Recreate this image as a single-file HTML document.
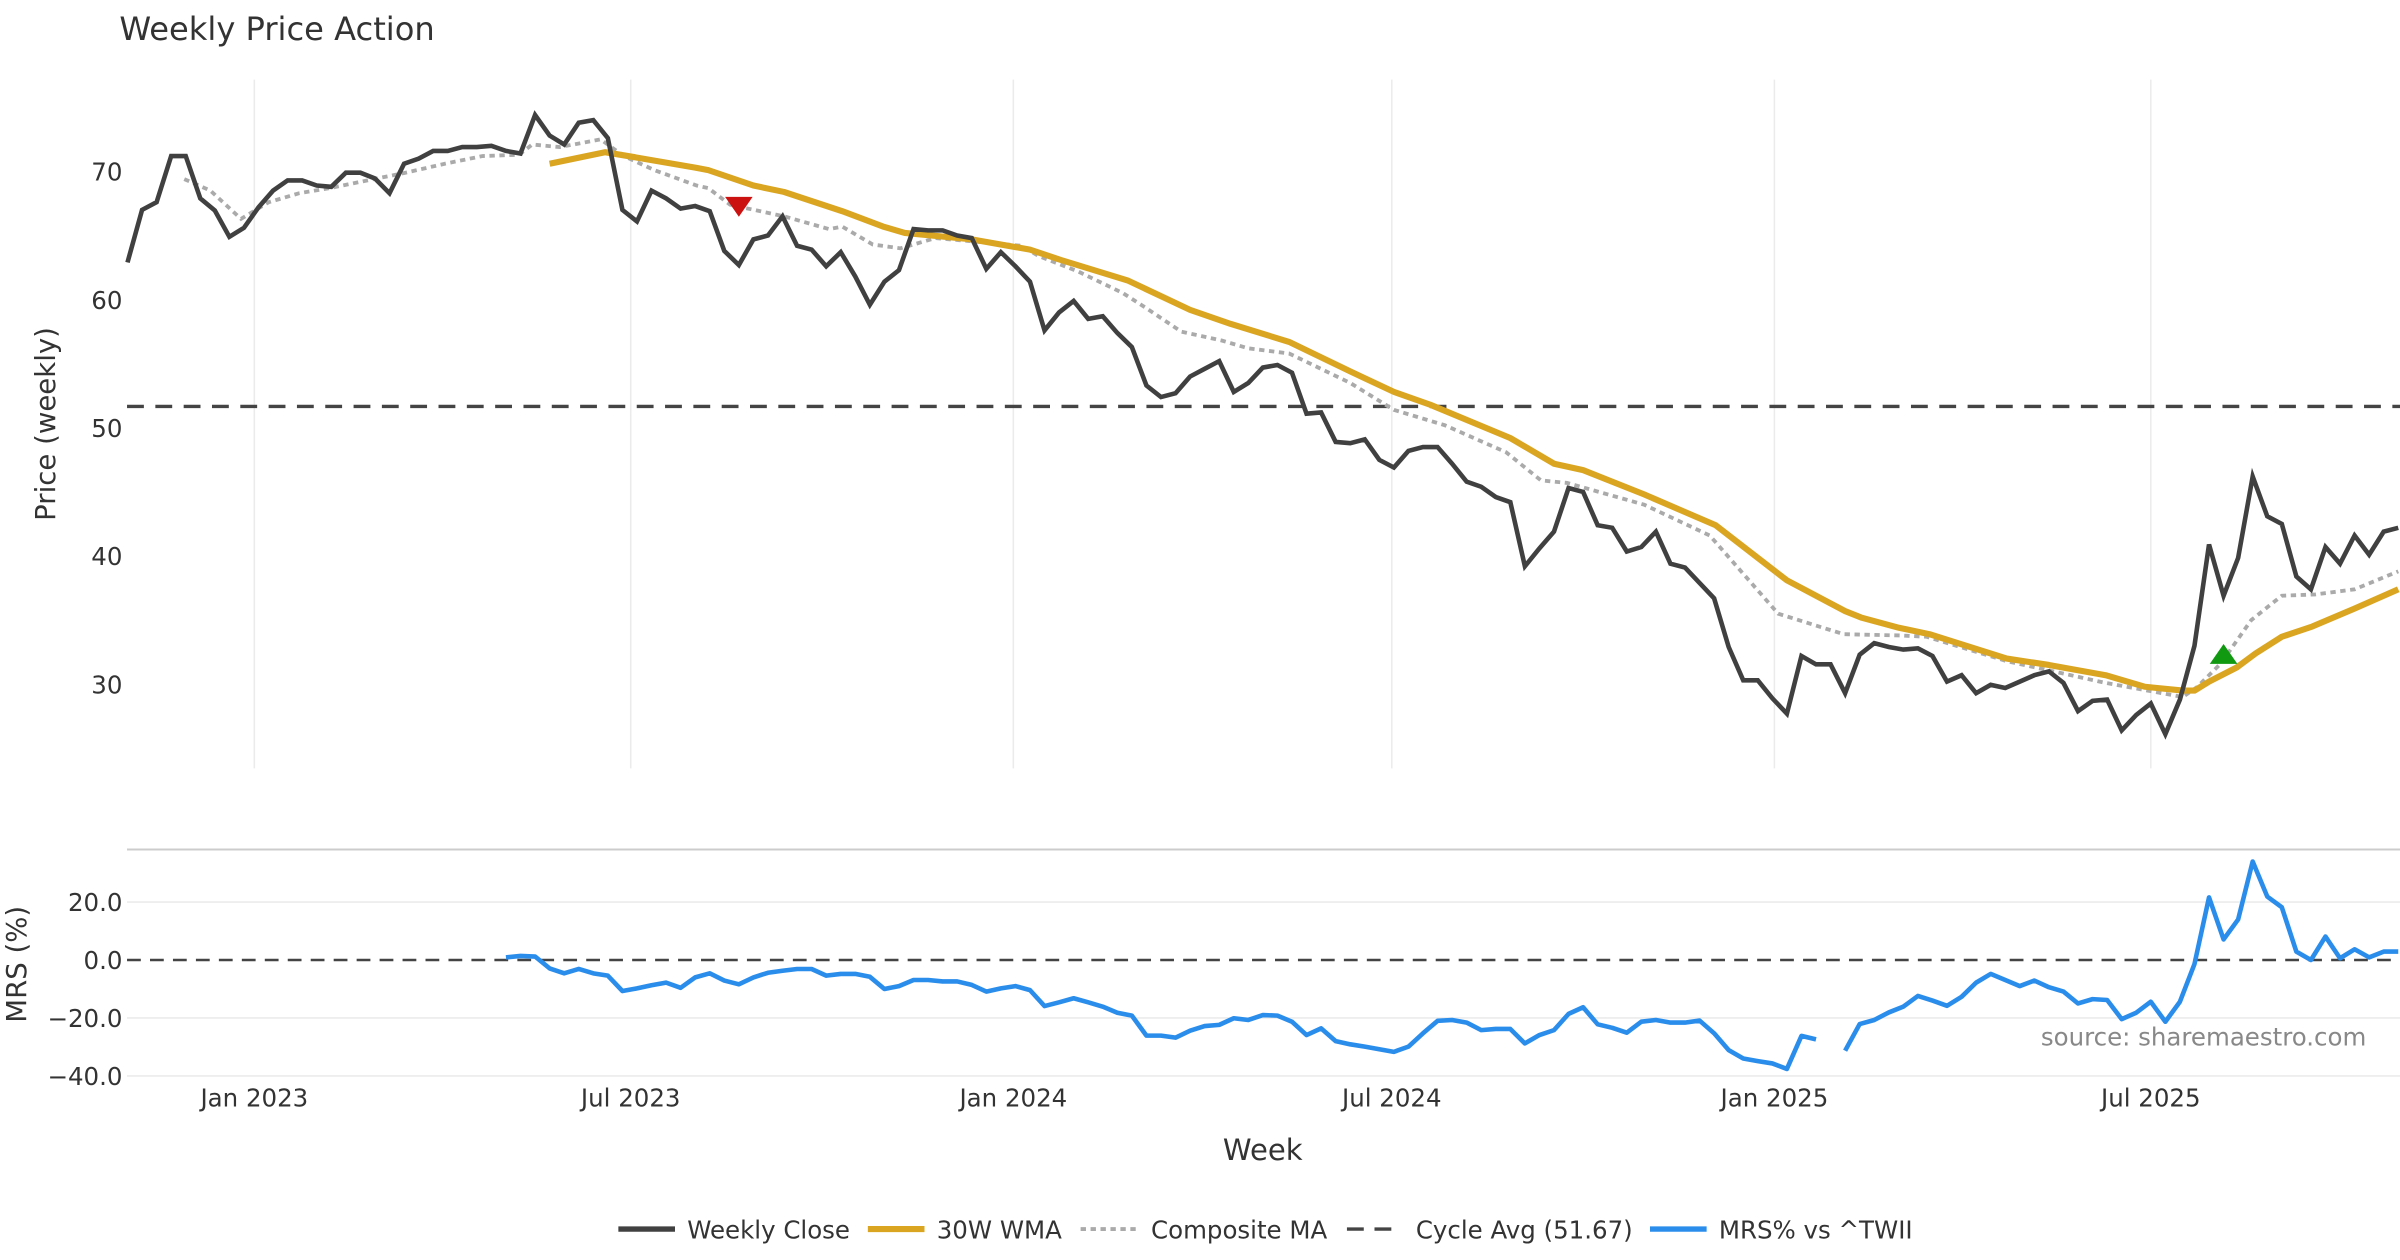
<!DOCTYPE html>
<html>
<head>
<meta charset="utf-8">
<style>
  html, body { margin: 0; padding: 0; background: #fff; }
  svg { display: block; font-family: "DejaVu Sans", "Liberation Sans", sans-serif; }
</style>
</head>
<body>
<svg id="chart" width="2400" height="1260" viewBox="0 0 1568 823.2" preserveAspectRatio="none" xmlns="http://www.w3.org/2000/svg">
  <rect x="0" y="0" width="1568" height="823.2" fill="#ffffff"/>
  <text x="78" y="26" font-size="21" fill="#333">Weekly Price Action</text>
  <g id="grid"></g>
  <g id="main"></g>
  <g id="mrs"></g>
  <g id="axes"></g>
  <text transform="translate(36,277) rotate(-90)" text-anchor="middle" font-size="18" fill="#333">Price (weekly)</text>
  <text transform="translate(17,630) rotate(-90)" text-anchor="middle" font-size="18" fill="#333">MRS (%)</text>
  <text x="825" y="758" text-anchor="middle" font-size="19" fill="#333">Week</text>
  <text x="1546" y="683" text-anchor="end" font-size="16" fill="#888">source: sharemaestro.com</text>
  <g id="legend">
    <g>
      <line x1="404" y1="803" x2="441" y2="803" stroke="#404040" stroke-width="3.5"/>
      <text x="449" y="809" font-size="16" fill="#333">Weekly Close</text>
    </g>
    <g>
      <line x1="567" y1="803" x2="604" y2="803" stroke="#DAA520" stroke-width="4"/>
      <text x="612" y="809" font-size="16" fill="#333">30W WMA</text>
    </g>
    <g>
      <line x1="706" y1="803" x2="744" y2="803" stroke="#aaa" stroke-width="2.5" stroke-dasharray="3.5,3"/>
      <text x="752" y="809" font-size="16" fill="#333">Composite MA</text>
    </g>
    <g>
      <line x1="880" y1="803" x2="916" y2="803" stroke="#444" stroke-width="2.2" stroke-dasharray="11,7"/>
      <text x="925" y="809" font-size="16" fill="#333">Cycle Avg (51.67)</text>
    </g>
    <g>
      <line x1="1078" y1="803" x2="1115" y2="803" stroke="#2A8DEB" stroke-width="3.5"/>
      <text x="1123" y="809" font-size="16" fill="#333">MRS% vs ^TWII</text>
    </g>
  </g>
</svg>
<script>
// ---- data ----
const closeValues = [62.9,67.0,67.6,71.2,71.2,67.9,66.95,64.9,65.6,67.2,68.5,69.3,69.3,68.9,68.8,69.9,69.9,69.45,68.3,70.6,71.0,71.6,71.6,71.9,71.9,72.0,71.6,71.4,74.4,72.8,72.1,73.8,74.0,72.6,67.0,66.1,68.5,67.9,67.1,67.3,
66.9,63.8,62.7,64.7,65.0,66.5,64.2,63.9,62.6,63.7,61.8,59.6,61.4,62.3,65.5,65.4,65.4,65.0,64.8,62.4,63.7,62.6,61.4,57.6,59.0,59.9,58.5,58.7,57.4,56.3,53.3,52.4,52.7,54.0,54.6,55.2,52.8,53.5,54.7,54.9,54.3,51.1,51.2,48.9,48.8,
49.1,47.5,46.9,48.2,48.5,48.5,47.2,45.8,45.4,44.6,44.2,39.2,40.6,41.9,45.3,45.0,42.4,42.2,40.35,40.7,41.9,39.4,39.1,37.9,36.7,32.9,30.3,30.3,28.9,27.7,32.2,31.55,31.55,29.3,32.3,33.2,32.9,
32.7,32.8,32.2,30.2,30.7,29.3,29.95,29.7,30.2,30.7,31.0,30.1,27.9,28.7,28.8,26.4,27.6,28.5,26.1,28.8,33.0,40.9,36.9,39.85,46.2,43.1,42.5,38.4,37.4,40.7,39.4,41.6,40.1,41.9,42.2];

const wmaWeeks = [29,32.8,34.9,39,39.9,43,45.1,49.1,51.9,53.4,58,62,64.1,68.7,73,75.8,79.8,84,87,89.5,95,98,100,104.2,109.1,114,118,119.1,121.7,123.8,129.1,132,135.9,138.6,141.2,142,143,144.9,146.2,148,150.1,153,156];
const wmaValues = [70.6,71.5,71.1,70.3,70.1,68.9,68.4,66.9,65.7,65.2,64.7,63.9,63.1,61.5,59.2,58.1,56.7,54.4,52.8,51.8,49.2,47.2,46.7,44.8,42.4,38.1,35.7,35.2,34.4,33.9,32.0,31.5,30.7,29.8,29.5,29.5,30.2,31.3,32.4,33.7,34.5,35.9,37.4];

const compWeeks = [3.9,5.7,7.8,9.7,11.8,13.9,16.5,19.1,21.8,24.4,26.9,27.8,29.7,32.5,34.1,36.2,39.1,39.9,41.4,45.1,48.2,49.1,51.2,53.1,55.5,61.4,62.6,65.3,68.4,69.9,72.4,75.2,77,79.8,84,87,90.5,94.7,97.1,98.9,104.2,108.7,113.4,117.9,121.8,123.6,129.1,135.9,141.2,142.2,143.8,145.9,148,150.3,153,156];
const compValues = [69.4,68.5,66.3,67.6,68.3,68.7,69.3,69.9,70.6,71.2,71.3,72.1,71.9,72.5,71.2,70.1,68.9,68.7,67.4,66.5,65.5,65.7,64.3,64.0,64.8,64.2,63.4,62.2,60.5,59.4,57.5,56.8,56.2,55.8,53.5,51.4,50.2,48.1,45.9,45.7,44.0,41.6,35.5,33.9,33.8,33.7,31.8,30.1,29.0,29.8,31.6,35.0,36.9,37.0,37.4,38.8];

const cycleAvg = 51.67;

const mrsValues = [null,null,null,null,null,null,null,null,null,null,null,null,null,null,null,null,null,null,null,null,null,null,null,null,null,null,
0.9,1.4,1.2,-2.9,-4.6,-3.1,-4.6,-5.4,-10.7,-9.8,-8.7,-7.8,-9.6,-6.0,-4.6,-7.1,-8.4,-6.0,-4.4,-3.7,-3.1,-3.1,-5.4,-4.8,-4.8,-5.8,-10.0,-9.0,-6.9,-6.9,-7.4,-7.4,-8.6,-10.9,-9.8,-9.0,-10.4,-15.9,-14.6,-13.2,-14.6,-16.1,-18.2,-19.2,-26.1,-26.1,-26.8,-24.4,-22.8,-22.4,-20.1,-20.7,-19.0,-19.2,-21.3,-25.9,-23.6,-28.0,-29.1,-29.9,-30.8,-31.7,-29.9,-25.3,-21.0,
-20.7,-21.6,-24.2,-23.8,-23.8,-28.8,-25.9,-24.2,-18.6,-16.3,-22.2,-23.4,-25.1,-21.3,-20.7,-21.6,-21.6,-20.9,-25.3,-31.1,-34.0,-34.9,-35.7,-37.6,-26.2,-27.4,null,-31.3,-22.1,-20.7,-18.1,-16.1,-12.4,-14.0,-15.8,-12.7,-7.8,-4.8,-6.9,-9.0,-7.1,-9.4,-10.9,-15.0,-13.5,-13.8,-20.4,-18.2,-14.4,-21.3,-14.4,-1.4,21.6,7.1,14.0,34.0,21.9,18.2,2.9,0,8.1,0.6,3.7,0.9,2.9,2.9];

const sellWeeks = [42];
const sellPrices = [67.3];
const buyWeeks = [144];
const buyPrices = [32.3];

const priceTicks = [30,40,50,60,70];
const mrsTicks = [20,0,-20,-40];
const mrsTickLabels = ["20.0","0.0","\u221220.0","\u221240.0"];
const xTickDates = ["2023-01-01","2023-07-01","2024-01-01","2024-07-01","2025-01-01","2025-07-01"];
const xTickLabels = ["Jan 2023","Jul 2023","Jan 2024","Jul 2024","Jan 2025","Jul 2025"];
const startDate = "2022-11-01";

// ---- scales ----
const X0 = 83.3, WEEK_PX = 9.51;
function xW(w) { return X0 + w * WEEK_PX; }
function xDate(d) {
  const days = (new Date(d + "T00:00:00Z") - new Date(startDate + "T00:00:00Z")) / 86400000;
  return xW(days / 7);
}
function yP(p) { return 112 + (70 - p) * 8.375; }
function yM(m) { return 627.2 - m * 1.893; }

const NS = "http://www.w3.org/2000/svg";
function mk(tag, attrs, parent) {
  const el = document.createElementNS(NS, tag);
  for (const k in attrs) el.setAttribute(k, attrs[k]);
  parent.appendChild(el);
  return el;
}
const grid = document.getElementById("grid");
const main = document.getElementById("main");
const mrs = document.getElementById("mrs");
const axes = document.getElementById("axes");

xTickDates.forEach((d, i) => {
  const x = xDate(d);
  const g = mk("line", {x1: x, x2: x, y1: 52, y2: 502, stroke: "#ebebeb", "stroke-width": 1}, grid);
  
  
  const t = mk("text", {x: x, y: 723, "text-anchor": "middle", "font-size": 16, fill: "#333"}, axes);
  t.textContent = xTickLabels[i];
  
  
});

priceTicks.forEach(p => {
  const t = mk("text", {x: 80, y: yP(p) + 6, "text-anchor": "end", "font-size": 16, fill: "#333"}, axes);
  t.textContent = p;
  
  
});

const sep = mk("line", {x1: 83, x2: 1568, y1: 555, y2: 555, stroke: "#cccccc", "stroke-width": 1.3}, grid);


mrsTicks.forEach((m, i) => {
  if (m !== 0) {
    const g = mk("line", {x1: 83, x2: 1568, y1: yM(m), y2: yM(m), stroke: "#eeeeee", "stroke-width": 1.2}, grid);
    
    
  }
  const t = mk("text", {x: 80, y: yM(m) + 6, "text-anchor": "end", "font-size": 16, fill: "#333"}, axes);
  t.textContent = mrsTickLabels[i];
  
  
});
const zl = mk("line", {x1: 83, x2: 1568, y1: yM(0), y2: yM(0), stroke: "#444", "stroke-width": 1.6, "stroke-dasharray": "9,6"}, mrs);



const ca = mk("line", {x1: 83, x2: 1568, y1: yP(cycleAvg), y2: yP(cycleAvg), stroke: "#444", "stroke-width": 2.2, "stroke-dasharray": "11,7.5"}, main);



function pathFrom(xs, ys) {
  let d = "", pen = false;
  for (let i = 0; i < xs.length; i++) {
    if (ys[i] === null || ys[i] === undefined) { pen = false; continue; }
    d += (pen ? "L" : "M") + xs[i].toFixed(2) + "," + ys[i].toFixed(2);
    pen = true;
  }
  return d;
}

const comp = mk("path", {d: pathFrom(compWeeks.map(xW), compValues.map(yP)), fill: "none", stroke: "#aaaaaa", "stroke-width": 2.5, "stroke-dasharray": "3.5,3"}, main);



const wma = mk("path", {d: pathFrom(wmaWeeks.map(xW), wmaValues.map(yP)), fill: "none", stroke: "#DAA520", "stroke-width": 4, "stroke-linejoin": "round"}, main);



const cl = mk("path", {d: pathFrom(closeValues.map((v, i) => xW(i)), closeValues.map(yP)), fill: "none", stroke: "#404040", "stroke-width": 3, "stroke-linejoin": "miter"}, main);



sellWeeks.forEach((w, i) => {
  const x = xW(w), y = yP(sellPrices[i]);
  const t = mk("polygon", {points: `${x-9},${y-6} ${x+9},${y-6} ${x},${y+7}`, fill: "#CC1111"}, main);
  
  
});
buyWeeks.forEach((w, i) => {
  const x = xW(w), y = yP(buyPrices[i]);
  const t = mk("polygon", {points: `${x-9},${y+6} ${x+9},${y+6} ${x},${y-7}`, fill: "#119911"}, main);
  
  
});

const ml = mk("path", {d: pathFrom(mrsValues.map((v, i) => xW(i)), mrsValues.map(v => v === null ? null : yM(v))), fill: "none", stroke: "#2A8DEB", "stroke-width": 3, "stroke-linejoin": "round"}, mrs);


</script>
</body>
</html>
